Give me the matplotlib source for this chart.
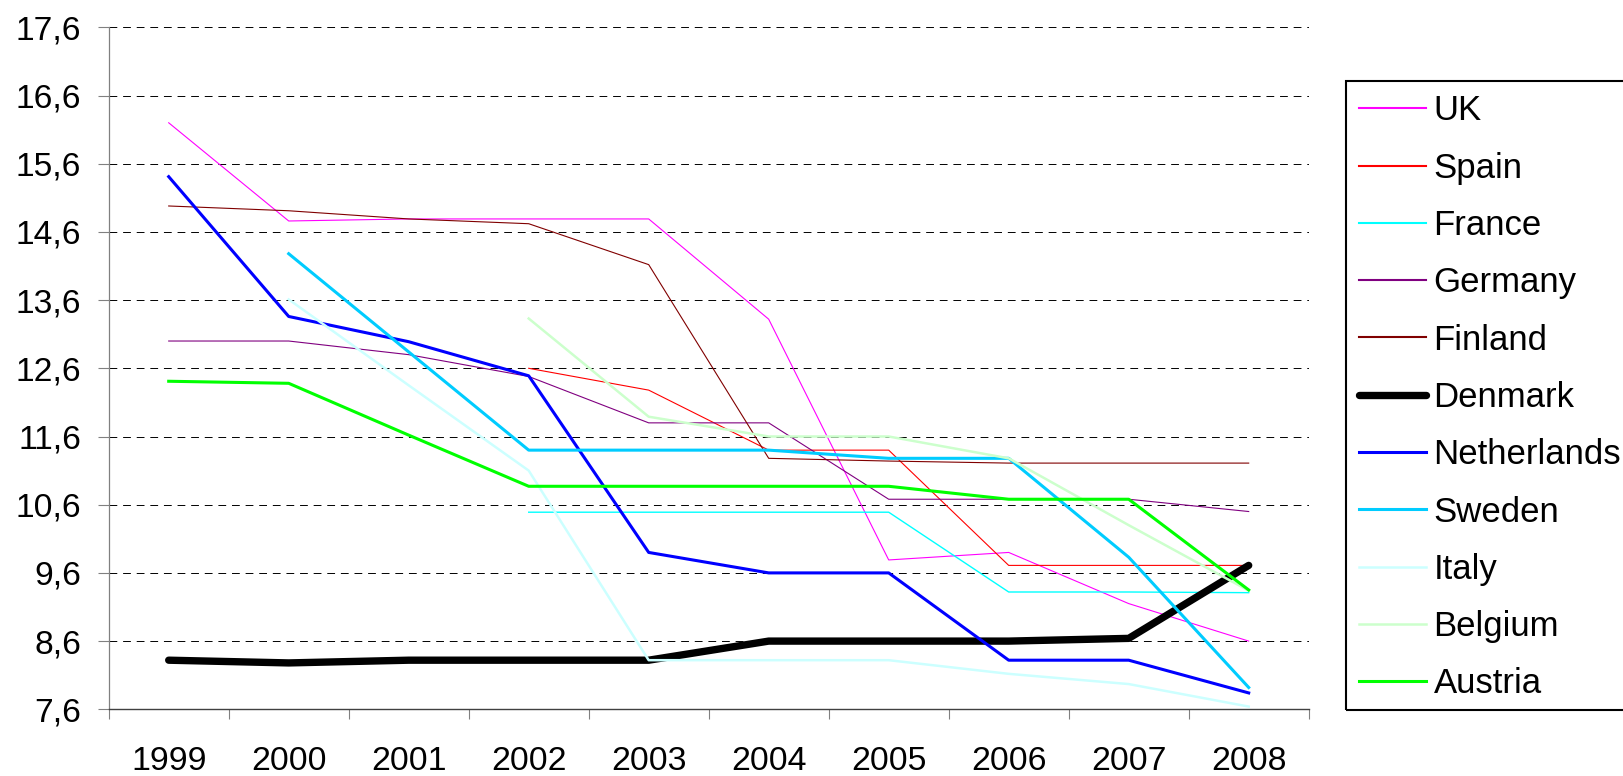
import numpy as np
import matplotlib
matplotlib.use("Agg")
import matplotlib.pyplot as plt
from matplotlib.ticker import FixedLocator, FuncFormatter
from matplotlib.patches import Rectangle

plt.rcParams['font.family'] = ['Liberation Sans', 'DejaVu Sans']

years = ['1999', '2000', '2001', '2002', '2003', '2004', '2005', '2006', '2007', '2008']
nan = np.nan

uk          = [16.20, 14.76, 14.79, 14.79, 14.79, 13.32, 9.79, 9.90, 9.15, 8.60]
spain       = [nan, nan, nan, 12.60, 12.28, 11.40, 11.40, 9.71, 9.71, 9.71]
france      = [nan, nan, nan, 10.49, 10.49, 10.49, 10.49, 9.32, 9.32, 9.31]
germany     = [13.00, 13.00, 12.80, 12.48, 11.80, 11.80, 10.68, 10.68, 10.68, 10.50]
finland     = [14.98, 14.91, 14.79, 14.72, 14.12, 11.28, 11.24, 11.21, 11.21, 11.21]
denmark     = [8.32, 8.28, 8.32, 8.32, 8.32, 8.60, 8.60, 8.60, 8.64, 9.71]
netherlands = [15.41, 13.36, 12.99, 12.49, 9.90, 9.60, 9.60, 8.32, 8.32, 7.84]
sweden      = [nan, 14.28, 12.84, 11.40, 11.40, 11.40, 11.28, 11.28, 9.83, 7.92]
italy       = [nan, 13.61, 12.35, 11.10, 8.32, 8.32, 8.32, 8.12, 7.97, 7.64]
belgium     = [nan, nan, nan, 13.33, 11.89, 11.60, 11.60, 11.28, 10.30, 9.34]
austria     = [12.41, 12.38, 11.62, 10.87, 10.87, 10.87, 10.87, 10.68, 10.68, 9.35]

series = [
    ('UK', uk, '#FF00FF', 0.8),
    ('Spain', spain, '#FF0000', 0.8),
    ('France', france, '#00FFFF', 1.0),
    ('Germany', germany, '#800080', 0.8),
    ('Finland', finland, '#800000', 0.8),
    ('Denmark', denmark, '#000000', 5.3),
    ('Netherlands', netherlands, '#0000FF', 2.2),
    ('Sweden', sweden, '#00CCFF', 2.2),
    ('Italy', italy, '#CCFFFF', 1.8),
    ('Belgium', belgium, '#CCFFCC', 1.8),
    ('Austria', austria, '#00FF00', 2.2),
]

yticks = [7.6, 8.6, 9.6, 10.6, 11.6, 12.6, 13.6, 14.6, 15.6, 16.6, 17.6]

W, H = 1623, 776
fig = plt.figure(figsize=(W / 100, H / 100), dpi=100)
ax = fig.add_axes([108.7/W, 1 - 709.3/H, 1200/W, 682/H])

x = np.arange(len(years))
for name, vals, col, lw in series:
    kw = {}
    if name == 'Denmark':
        kw = dict(solid_capstyle='round', solid_joinstyle='round')
    ax.plot(x, vals, color=col, lw=lw, label=name, zorder=3, **kw)

ax.set_xlim(-0.5, len(years) - 0.5)
ax.set_ylim(yticks[0], yticks[-1])

ax.set_yticks(yticks)
ax.yaxis.set_major_formatter(FuncFormatter(lambda v, p: f"{v:.1f}".replace('.', ',')))
ax.tick_params(axis='y', direction='out', length=7.7, width=0.8, color='#808080',
               pad=12, labelsize=24.2)

ax.xaxis.set_major_locator(FixedLocator(np.arange(-0.5, len(years), 1.0)))
ax.xaxis.set_minor_locator(FixedLocator(x))
ax.set_xticklabels([], minor=False)
ax.set_xticklabels(years, minor=True)
ax.tick_params(axis='x', which='major', direction='out', length=7.2, width=0.8, color='#808080')
ax.tick_params(axis='x', which='minor', length=0, pad=26.5, labelsize=24.4)

for s in ['top', 'right']:
    ax.spines[s].set_visible(False)
ax.spines['left'].set_color('#808080')
ax.spines['left'].set_linewidth(0.9)
ax.spines['bottom'].set_color('#404040')
ax.spines['bottom'].set_linewidth(1.0)

ax.yaxis.grid(True, color='black', lw=0.7, linestyle=(0, (8, 6)), zorder=1)
ax.set_axisbelow(True)

leg = fig.legend(loc='upper left', bbox_to_anchor=(1345/W, 1 - 80.5/H),
                 frameon=False, fontsize=25, labelspacing=0.70,
                 handlelength=1.92, handletextpad=0.23, borderpad=0.40,
                 borderaxespad=0)
for h in leg.get_lines():
    if h.get_linewidth() < 1.5:
        h.set_linewidth(1.5)

# legend frame runs past the right edge of the figure, as in the reference
fig.patches.append(Rectangle((1345.5/W, 1 - 710/H), 320/W, (710 - 80.5)/H,
                             transform=fig.transFigure, fill=False,
                             edgecolor='black', linewidth=1.5, clip_on=False))

fig.savefig('out.png', dpi=100)
